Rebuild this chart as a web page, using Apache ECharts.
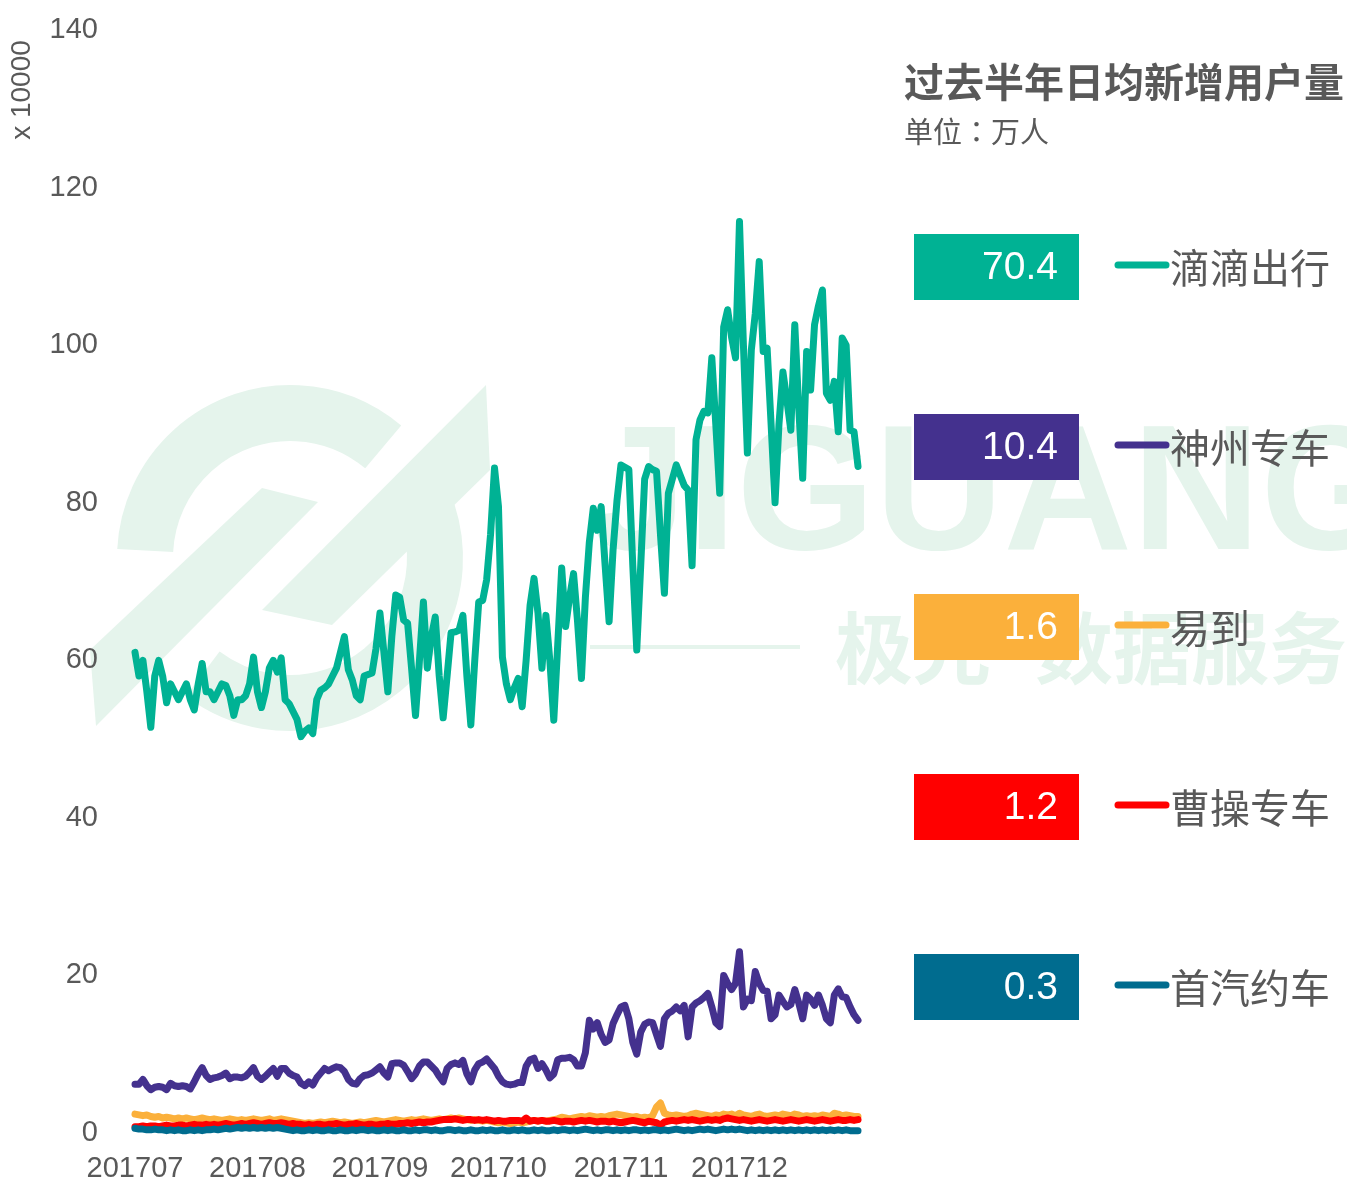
<!DOCTYPE html>
<html>
<head>
<meta charset="utf-8">
<script src="https://cdn.jsdelivr.net/npm/echarts@6/dist/echarts.min.js"></script>
<style>
  html, body { margin: 0; padding: 0; background: #fff; }
  #chart { width: 1347px; height: 1181px; }
</style>
</head>
<body>
<div id="chart"></div>
<script>
// 过去半年日均新增用户量 (2017-07-01 ~ 2017-12-31), 单位 x10000
const seriesNames = ['滴滴出行', '神州专车', '易到', '曹操专车', '首汽约车']
const seriesColors = ['#00b294', '#44318e', '#fbb03b', '#ff0000', '#006c8f']
const avgValues = ['70.4', '10.4', '1.6', '1.2', '0.3']
const yTicks = [0, 20, 40, 60, 80, 100, 120, 140]

const didi = [
  61, 58, 60, 56, 51.5, 58, 60, 58, 54.6, 57,
  56, 55, 56, 57, 55, 53.7, 57, 59.6, 56, 56,
  55, 56, 57, 56.8, 55.5, 53, 55, 55, 55.5, 57,
  60.4, 56, 54, 56, 59, 60, 58.5, 60.3, 55, 54.5,
  53.5, 52.5, 50.3, 51, 51.4, 50.7, 55, 56.2, 56.5, 57,
  58, 59, 61, 63, 58.8, 57.5, 55.5, 55, 58, 58.2,
  58.4, 61.5, 66, 61, 56, 63, 68.3, 68, 65.1, 64.7,
  59, 53, 60, 67.4, 59, 63, 65.5, 58, 52.7, 58,
  63.5, 63.6, 63.8, 65.7, 58, 51.8, 60, 67.4, 67.6, 70.2,
  76, 84.4, 79.5, 60.4, 57, 55, 56.5, 57.7, 54.1, 60,
  67, 70.4, 66, 59, 65.7, 60, 52.4, 62, 71.7, 64.3,
  68, 71, 65, 57.7, 68, 75, 79.3, 76.5, 79.5, 72,
  64.9, 74, 80.3, 84.8, 84.5, 84.2, 72, 61.3, 72, 83,
  84.6, 84.2, 84, 76, 68.5, 81.2, 83, 84.8, 83.5, 82.2,
  81.6, 72, 88, 90.5, 91.6, 91.4, 98.4, 90, 81.2, 102.3,
  104.5, 101, 98.4, 115.7, 100, 86.3, 99.4, 104, 110.6, 99.2,
  99.6, 90, 80, 90, 96.6, 93, 89.2, 102.6, 92, 83.1,
  99.2, 94.3, 102.6, 105, 107, 93.9, 93, 95.4, 89, 100.9,
  100, 89.2, 89, 84.6
]

const shenzhou = [
  6.2, 6.2, 6.8, 6.0, 5.5, 5.8, 5.9, 5.8, 5.5, 6.3,
  6.0, 5.9, 6.0, 5.9, 5.6, 6.5, 7.5, 8.3, 7.3, 6.8,
  7.0, 7.1, 7.3, 7.6, 6.9, 7.1, 7.1, 7.0, 7.2, 7.7,
  8.3, 7.2, 6.8, 7.2, 7.7, 8.2, 7.2, 8.2, 8.2, 7.6,
  7.3, 7.1, 6.3, 6.0, 6.5, 6.1, 7.0, 7.6, 8.2, 7.9,
  8.2, 8.4, 8.3, 7.8, 6.8, 6.3, 6.2, 6.9, 7.3, 7.4,
  7.6, 8.0, 8.4, 7.6, 7.1, 8.8, 8.9, 8.9, 8.6, 7.8,
  6.9, 7.5, 8.5, 9.0, 9.0, 8.5, 8.0, 7.2, 6.5, 8.2,
  8.7, 8.9, 8.7, 9.2, 7.5, 6.5, 8.0, 8.8, 9.0, 9.4,
  8.8, 8.2, 7.2, 6.5, 6.2, 6.1, 6.2, 6.4, 6.4, 8.5,
  9.3, 9.5, 8.2, 8.8, 8.0, 7.0, 7.5, 9.3, 9.5, 9.5,
  9.6, 9.3, 8.5, 8.5, 10.2, 14.3, 13.2, 14.0, 12.5, 11.5,
  11.8, 13.9, 15.0, 16.0, 16.2, 14.5, 11.5, 10.0, 12.8, 13.8,
  14.1, 14.0, 12.5, 11.0, 14.5, 15.2, 15.5, 16.0, 15.5, 16.2,
  12.2, 16.0, 16.5, 16.8, 17.2, 17.7, 16.0, 14.0, 13.5, 20.0,
  19.0, 18.2, 19.0, 23.0, 16.0, 17.0, 16.8, 20.5, 19.0, 18.1,
  18.0, 14.5, 15.0, 17.5, 16.7, 16.0, 16.3, 18.2, 16.5, 14.5,
  17.5, 17.0, 16.2, 17.5, 16.2, 14.5, 14.0, 17.5, 18.3, 17.3,
  17.2, 16.0, 15.0, 14.3
]

const yidao = [
  2.4, 2.3, 2.2, 2.3, 2.1, 2.0, 2.1, 1.9, 2.0, 1.9,
  1.8, 1.9, 1.8, 1.9, 1.8, 1.7, 1.8, 1.9, 1.8, 1.7,
  1.8, 1.7, 1.6, 1.7, 1.8, 1.7, 1.6, 1.7, 1.6, 1.7,
  1.8, 1.7, 1.6, 1.7, 1.8, 1.6, 1.7, 1.8, 1.7, 1.6,
  1.5, 1.4, 1.3, 1.2, 1.3, 1.2, 1.3, 1.4, 1.3, 1.4,
  1.5, 1.4, 1.3, 1.4, 1.3, 1.2, 1.3, 1.4, 1.3, 1.4,
  1.5, 1.6, 1.5, 1.4, 1.5, 1.6, 1.7, 1.6, 1.5, 1.6,
  1.7, 1.6, 1.7, 1.8, 1.7, 1.6, 1.7, 1.8, 1.7, 1.8,
  1.9, 1.8, 1.9, 1.8, 1.7, 1.6, 1.7, 1.6, 1.5, 1.6,
  1.5, 1.4, 1.3, 1.4, 1.3, 1.2, 1.3, 1.4, 1.3, 1.4,
  1.5, 1.6, 1.5, 1.6, 1.5, 1.6, 1.7, 1.8, 2.0, 1.9,
  1.8, 1.9, 2.0, 2.1, 2.0, 2.2, 2.1, 2.0, 2.1, 2.0,
  2.2, 2.3, 2.4, 2.3, 2.2, 2.1, 2.0, 2.1, 1.9, 2.0,
  1.9, 2.2, 3.3, 3.8, 2.5, 2.3, 2.2, 2.3, 2.2, 2.1,
  2.2, 2.4, 2.5, 2.4, 2.3, 2.2, 2.1, 2.3, 2.2, 2.4,
  2.3, 2.4, 2.2, 2.5, 2.3, 2.2, 2.1, 2.3, 2.4, 2.2,
  2.1, 2.2, 2.3, 2.2, 2.4, 2.3, 2.2, 2.4, 2.3, 2.1,
  2.2, 2.1, 2.2, 2.1, 2.3, 2.2, 2.1, 2.5, 2.4, 2.2,
  2.3, 2.2, 2.1, 2.1
]

const caocao = [
  0.8, 0.8, 0.9, 0.8, 0.9, 0.9, 0.8, 0.9, 1.0, 0.9,
  0.9, 1.0, 1.0, 0.9, 1.0, 1.1, 1.0, 1.0, 1.1, 1.0,
  1.1, 1.0, 1.1, 1.2, 1.1, 1.0, 1.1, 1.2, 1.1, 1.2,
  1.3, 1.2, 1.1, 1.2, 1.3, 1.2, 1.2, 1.3, 1.2, 1.1,
  1.2, 1.1, 1.1, 1.0, 1.1, 1.0, 1.1, 1.1, 1.0, 1.1,
  1.1, 1.2, 1.1, 1.0, 1.1, 1.1, 1.2, 1.1, 1.0, 1.1,
  1.1, 1.0, 1.1, 1.1, 1.2, 1.1, 1.1, 1.2, 1.2, 1.3,
  1.2, 1.3, 1.4, 1.3, 1.4, 1.4, 1.5, 1.6, 1.7, 1.7,
  1.7, 1.8, 1.7, 1.6, 1.7, 1.7, 1.6, 1.7, 1.6, 1.7,
  1.6, 1.5, 1.6, 1.5, 1.5, 1.6, 1.6, 1.6, 1.5, 1.9,
  1.5, 1.6, 1.5, 1.6, 1.5, 1.5, 1.6, 1.5, 1.4, 1.5,
  1.5, 1.4, 1.5, 1.6, 1.5, 1.6, 1.5, 1.4, 1.5, 1.5,
  1.4, 1.5, 1.4, 1.3, 1.4, 1.5, 1.6, 1.5, 1.4, 1.3,
  1.5, 1.4, 1.3, 1.0, 1.4, 1.5, 1.6, 1.5, 1.6, 1.7,
  1.6, 1.7, 1.6, 1.5, 1.6, 1.7, 1.6, 1.7, 1.6, 1.8,
  1.9, 1.8, 1.7, 1.6, 1.7, 1.6, 1.5, 1.6, 1.7, 1.6,
  1.5, 1.6, 1.7, 1.6, 1.5, 1.6, 1.7, 1.6, 1.5, 1.6,
  1.7, 1.6, 1.5, 1.6, 1.7, 1.6, 1.5, 1.6, 1.7, 1.6,
  1.6, 1.7, 1.6, 1.7
]

const shouqi = [
  0.6, 0.5, 0.5, 0.4, 0.4, 0.5, 0.4, 0.4, 0.3, 0.4,
  0.3, 0.4, 0.3, 0.3, 0.4, 0.3, 0.4, 0.3, 0.4, 0.4,
  0.5, 0.4, 0.5, 0.6, 0.5, 0.6, 0.7, 0.6, 0.7, 0.6,
  0.7, 0.6, 0.7, 0.6, 0.7, 0.6, 0.7, 0.6, 0.5, 0.4,
  0.3, 0.4, 0.3, 0.3, 0.4, 0.3, 0.4, 0.3, 0.3, 0.4,
  0.3, 0.3, 0.4, 0.3, 0.3, 0.4, 0.3, 0.4, 0.4, 0.3,
  0.4, 0.3, 0.3, 0.4, 0.3, 0.4, 0.3, 0.3, 0.4, 0.3,
  0.3, 0.4, 0.3, 0.4, 0.4, 0.3, 0.4, 0.3, 0.3, 0.4,
  0.4, 0.3, 0.4, 0.3, 0.3, 0.4, 0.3, 0.3, 0.4, 0.3,
  0.4, 0.3, 0.3, 0.4, 0.3, 0.3, 0.4, 0.3, 0.4, 0.3,
  0.3, 0.4, 0.3, 0.4, 0.3, 0.3, 0.4, 0.3, 0.4, 0.4,
  0.3, 0.4, 0.3, 0.4, 0.5, 0.4, 0.3, 0.4, 0.3, 0.4,
  0.4, 0.3, 0.4, 0.3, 0.4, 0.3, 0.4, 0.4, 0.3, 0.4,
  0.3, 0.4, 0.4, 0.3, 0.4, 0.3, 0.4, 0.5, 0.4, 0.3,
  0.4, 0.3, 0.4, 0.5, 0.4, 0.5, 0.4, 0.3, 0.4, 0.5,
  0.4, 0.5, 0.4, 0.5, 0.4, 0.3, 0.4, 0.3, 0.4, 0.3,
  0.4, 0.3, 0.4, 0.3, 0.4, 0.3, 0.4, 0.3, 0.4, 0.3,
  0.4, 0.3, 0.4, 0.3, 0.4, 0.3, 0.4, 0.3, 0.4, 0.3,
  0.4, 0.3, 0.3, 0.3
]

const seriesData = [didi, shenzhou, yidao, caocao, shouqi]

// 日期类目 2017-07-01 ... 2017-12-31
const dates = []
for (let t = Date.UTC(2017, 6, 1); t <= Date.UTC(2017, 11, 31); t += 86400000) {
  dates.push(new Date(t).toISOString().slice(0, 10))
}

const textColor = '#595959'
const markColor = '#e5f4ec'
const fontFamily = '"Liberation Sans", Arial, "Noto Sans CJK SC", sans-serif'
const cjkFont = '"Noto Sans CJK SC"'

const chart = echarts.init(document.getElementById('chart'))

// 水印 (JIGUANG 极光数据服务)
const watermark = [
  { type: 'arc', shape: { cx: 290, cy: 558, r: 145, startAngle: 183 * Math.PI / 180, endAngle: 310 * Math.PI / 180 },
    style: { stroke: markColor, lineWidth: 56, fill: null }, z: -10 },
  { type: 'arc', shape: { cx: 290, cy: 558, r: 145, startAngle: -18 * Math.PI / 180, endAngle: 127 * Math.PI / 180 },
    style: { stroke: markColor, lineWidth: 56, fill: null }, z: -10 },
  { type: 'polygon', shape: { points: [[262, 488], [318, 502], [96, 726], [90, 650]] },
    style: { fill: markColor }, z: -10 },
  { type: 'polygon', shape: { points: [[486, 385], [490, 470], [332, 625], [262, 610]] },
    style: { fill: markColor }, z: -10 },
  { type: 'text', x: 588, y: 500, z: -10,
    style: { text: 'JIGUANG', fill: markColor, fontSize: 178, fontWeight: 'bold', fontFamily: fontFamily, verticalAlign: 'middle' } },
  { type: 'rect', shape: { x: 590, y: 645, width: 210, height: 4 }, style: { fill: markColor }, z: -10 },
  { type: 'text', x: 835, y: 648, z: -10,
    style: { text: '极光', fill: markColor, fontSize: 78, fontWeight: 'bold', fontFamily: cjkFont, verticalAlign: 'middle' } },
  { type: 'text', x: 1035, y: 648, z: -10,
    style: { text: '数据服务', fill: markColor, fontSize: 78, fontWeight: 'bold', fontFamily: cjkFont, verticalAlign: 'middle' } }
]

// 右侧图例：均值色块 + 线段 + 名称
const legendItems = []
seriesNames.forEach((name, i) => {
  const top = 234 + i * 180
  legendItems.push({
    type: 'rect', shape: { x: 914, y: top, width: 165, height: 66 },
    style: { fill: seriesColors[i] }, z: 10
  })
  legendItems.push({
    type: 'text', x: 1058, y: top + 34, z: 11,
    style: { text: avgValues[i], fill: '#fff', fontSize: 39, fontFamily: fontFamily, align: 'right', verticalAlign: 'middle' }
  })
  legendItems.push({
    type: 'line', shape: { x1: 1118, y1: top + 31, x2: 1166, y2: top + 31 },
    style: { stroke: seriesColors[i], lineWidth: 7, lineCap: 'round' }, z: 10
  })
  legendItems.push({
    type: 'text', x: 1170, y: top + 34, z: 10,
    style: { text: name, fill: textColor, fontSize: 40, fontFamily: cjkFont, verticalAlign: 'middle' }
  })
})

const option = {
  backgroundColor: '#fff',
  animation: false,
  grid: {
    left: 135,
    right: 489,
    top: 30,
    bottom: 48,
    outerBoundsMode: 'none'
  },
  xAxis: {
    type: 'category',
    data: dates,
    boundaryGap: false,
    axisLine: { show: false },
    axisTick: { show: false },
    splitLine: { show: false },
    axisLabel: {
      color: textColor,
      fontSize: 29,
      fontFamily: fontFamily,
      margin: 21,
      interval: (idx, val) => val.slice(8) === '01',
      formatter: val => val.slice(0, 4) + val.slice(5, 7)
    }
  },
  yAxis: {
    type: 'value',
    min: yTicks[0],
    max: yTicks[yTicks.length - 1],
    interval: 20,
    axisLine: { show: false },
    axisTick: { show: false },
    splitLine: { show: false },
    axisLabel: {
      color: textColor,
      fontSize: 29,
      fontFamily: fontFamily,
      margin: 37
    }
  },
  graphic: [
    ...watermark,
    {
      type: 'text', x: 22, y: 90, rotation: Math.PI / 2, z: 10,
      style: { text: 'x 10000', fill: textColor, fontSize: 28, fontFamily: fontFamily, align: 'center', verticalAlign: 'middle' }
    },
    {
      type: 'text', x: 904, y: 82, z: 10,
      style: { text: '过去半年日均新增用户量', fill: textColor, fontSize: 40, fontWeight: 'bold', fontFamily: cjkFont, verticalAlign: 'middle' }
    },
    {
      type: 'text', x: 904, y: 132, z: 10,
      style: {
        text: '单位{c|：}万人', fill: textColor, fontSize: 29, fontFamily: cjkFont, verticalAlign: 'middle',
        rich: { c: { fontSize: 29, fill: textColor, fontFamily: '"Noto Sans CJK JP"' } }
      }
    },
    ...legendItems
  ],
  series: seriesNames.map((name, i) => ({
    name: name,
    type: 'line',
    data: seriesData[i],
    symbol: 'none',
    smooth: false,
    lineStyle: { color: seriesColors[i], width: 7, join: 'round', cap: 'round' },
    z: 2 + i
  }))
}

chart.setOption(option)
</script>
</body>
</html>
